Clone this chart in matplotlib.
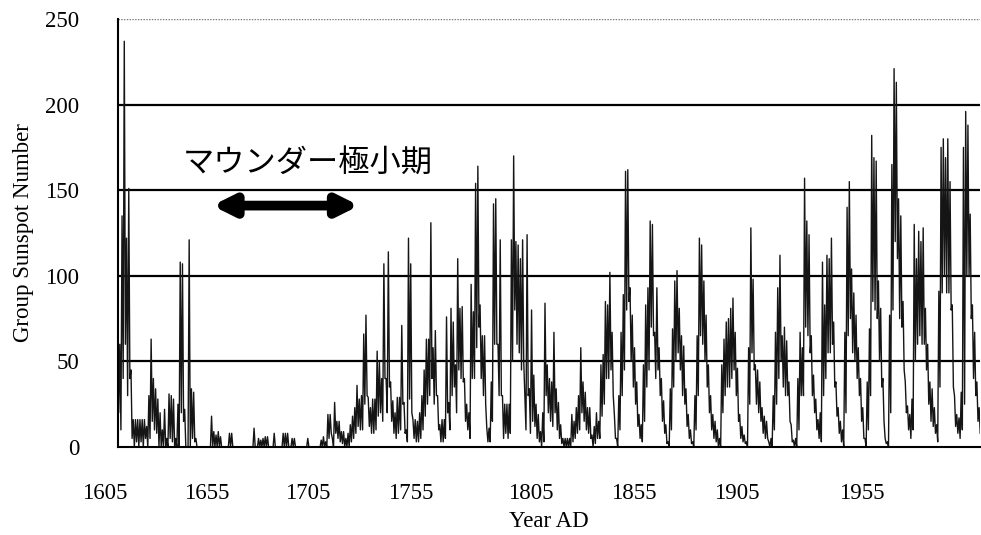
import numpy as np
import matplotlib
matplotlib.use("Agg")
import matplotlib.pyplot as plt

# group sunspot number: per-year high and low envelope
start_year = 1610
gsn_hi = [
    73, 60, 135, 237, 122, 151, 45, 16, 16, 16,        # 1610s
    16, 16, 16, 12, 30, 63, 40, 34, 28, 20,            # 1620s
    10, 22, 5, 31, 30, 28, 5, 25, 108, 107,            # 1630s
    22, 0, 121, 34, 32, 5, 0, 0, 0, 0,                 # 1640s
    0, 0, 18, 9, 7, 9, 6, 0, 0, 0,                     # 1650s
    8, 8, 0, 0, 0, 0, 0, 0, 0, 0,                      # 1660s
    0, 11, 0, 5, 4, 5, 6, 6, 0, 0,                     # 1670s
    8, 0, 0, 0, 8, 8, 8, 0, 5, 5,                      # 1680s
    0, 0, 0, 0, 0, 5, 0, 0, 0, 0,                      # 1690s
    0, 4, 6, 3, 19, 19, 5, 26, 15, 15,                 # 1700s
    9, 9, 5, 8, 13, 18, 23, 36, 28, 30,                # 1710s
    66, 77, 29, 23, 28, 28, 56, 50, 40, 107,           # 1720s
    40, 114, 38, 27, 20, 29, 29, 71, 26, 10,           # 1730s
    122, 107, 16, 16, 15, 20, 30, 45, 63, 63,          # 1740s
    131, 58, 68, 30, 13, 16, 16, 76, 26, 81,           # 1750s
    73, 48, 110, 81, 82, 40, 25, 20, 95, 79,           # 1760s
    154, 164, 83, 65, 65, 11, 11, 38, 142, 145,        # 1770s
    60, 121, 30, 25, 25, 25, 121, 170, 120, 118,       # 1780s
    110, 121, 30, 124, 34, 80, 42, 25, 19, 9,          # 1790s
    20, 84, 48, 40, 38, 67, 34, 26, 13, 5,             # 1800s
    5, 5, 5, 19, 15, 23, 30, 58, 38, 32,               # 1810s
    23, 23, 7, 12, 20, 15, 48, 54, 85, 83,             # 1820s
    102, 67, 19, 5, 30, 67, 89, 161, 162, 93,          # 1830s
    77, 58, 38, 19, 13, 48, 83, 93, 132, 130,          # 1840s
    67, 93, 58, 40, 27, 13, 3, 34, 69, 97,             # 1850s
    103, 81, 65, 59, 34, 19, 10, 3, 30, 65,            # 1860s
    122, 118, 97, 77, 48, 30, 19, 15, 10, 5,           # 1870s
    48, 63, 73, 75, 81, 87, 67, 46, 19, 12,            # 1880s
    7, 3, 58, 128, 98, 48, 45, 38, 23, 18,             # 1890s
    15, 3, 5, 30, 67, 93, 112, 65, 70, 62,             # 1900s
    38, 13, 4, 5, 40, 67, 58, 157, 132, 124,           # 1910s
    65, 42, 28, 16, 20, 108, 83, 112, 110, 122,        # 1920s
    73, 38, 23, 15, 10, 67, 140, 155, 104, 90,         # 1930s
    77, 58, 40, 23, 5, 38, 69, 182, 169, 167,          # 1940s
    97, 81, 40, 5, 3, 77, 165, 221, 213, 145,          # 1950s
    135, 85, 38, 24, 19, 28, 130, 110, 126, 120,       # 1960s
    128, 81, 60, 38, 34, 23, 13, 91, 175, 180,         # 1970s
    169, 180, 155, 83, 30, 19, 17, 32, 175, 196,       # 1980s
    188, 136, 83, 67, 38, 23,                          # 1990s
]
gsn_lo = [
    20, 10, 40, 60, 30, 40, 5, 0, 3, 0,
    3, 0, 5, 0, 5, 15, 10, 8, 0, 0,
    0, 0, 0, 5, 3, 0, 0, 0, 20, 15,
    0, 0, 0, 5, 3, 0, 0, 0, 0, 0,
    0, 0, 0, 0, 0, 0, 0, 0, 0, 0,
    0, 0, 0, 0, 0, 0, 0, 0, 0, 0,
    0, 0, 0, 0, 0, 0, 0, 0, 0, 0,
    0, 0, 0, 0, 0, 0, 0, 0, 0, 0,
    0, 0, 0, 0, 0, 0, 0, 0, 0, 0,
    0, 0, 0, 0, 5, 8, 0, 8, 5, 3,
    2, 0, 0, 0, 3, 5, 8, 12, 10, 10,
    25, 30, 12, 8, 8, 10, 18, 20, 15, 40,
    20, 35, 15, 8, 5, 8, 10, 25, 8, 3,
    28, 20, 5, 3, 3, 5, 10, 18, 25, 30,
    40, 25, 30, 10, 3, 3, 5, 20, 10, 30,
    35, 20, 45, 40, 38, 15, 10, 5, 40, 40,
    58, 70, 40, 30, 25, 3, 3, 15, 60, 60,
    30, 30, 5, 8, 5, 8, 50, 80, 60, 55,
    45, 50, 10, 30, 8, 15, 12, 5, 3, 0,
    3, 30, 20, 15, 12, 20, 10, 5, 2, 0,
    0, 0, 0, 3, 5, 8, 10, 20, 15, 10,
    8, 5, 0, 2, 5, 5, 18, 25, 40, 40,
    45, 30, 5, 0, 10, 30, 45, 80, 85, 50,
    35, 25, 12, 5, 3, 15, 35, 45, 70, 65,
    40, 45, 30, 15, 8, 2, 0, 10, 35, 50,
    55, 45, 30, 25, 12, 5, 2, 0, 10, 30,
    65, 60, 50, 35, 20, 10, 5, 3, 0, 0,
    20, 30, 35, 35, 40, 45, 30, 15, 5, 3,
    2, 0, 25, 55, 45, 25, 20, 15, 8, 5,
    5, 0, 0, 10, 25, 40, 50, 35, 30, 30,
    15, 3, 0, 0, 10, 30, 30, 70, 65, 55,
    30, 20, 10, 5, 3, 30, 40, 55, 55, 60,
    35, 18, 8, 3, 0, 20, 65, 75, 55, 50,
    40, 30, 15, 5, 0, 10, 30, 85, 80, 75,
    50, 35, 15, 2, 0, 20, 80, 120, 110, 75,
    70, 45, 20, 10, 5, 10, 50, 60, 65, 60,
    60, 45, 25, 15, 12, 8, 3, 35, 90, 100,
    90, 90, 80, 35, 12, 8, 5, 10, 25, 100,
    100, 75, 40, 30, 15, 8,
]

xtick_labels = ["1605", "1655", "1705", "1755", "1805", "1855", "1905", "1955"]
xtick_years = [1604.6, 1650.2, 1695.3, 1741.4, 1795.0, 1841.0, 1887.0, 1942.9]
yticks = [0, 50, 100, 150, 200, 250]

years = start_year + np.arange(len(gsn_hi))
t = np.ravel(np.column_stack([years + 0.2, years + 0.7]))
v = np.ravel(np.column_stack([gsn_hi, gsn_lo]))

plt.rcParams['font.family'] = ['Liberation Serif', 'DejaVu Serif']

fig = plt.figure(figsize=(9.81, 5.35), dpi=100)
ax = fig.add_axes([0.1203, 0.1645, 0.8787, 0.8])

for yv in yticks[1:-1]:
    ax.axhline(yv, color='black', lw=1.6, zorder=1)
ax.axhline(250, color='#777777', lw=1.0, ls=(0, (1, 1)), zorder=1)

ax.plot(t, v, color='#151515', lw=1.0, zorder=2)

ax.set_xlim(1610.4, 1995.6)
ax.set_ylim(0, 250)
ax.set_yticks(yticks)
ax.set_yticklabels([str(y) for y in yticks], fontsize=16.5)
ax.tick_params(axis='y', length=0, pad=28)
ax.set_xticks([])
for lab, xp in zip(xtick_labels, xtick_years):
    ax.text(xp, -0.085, lab, transform=ax.get_xaxis_transform(),
            ha='center', va='top', fontsize=16.5, clip_on=False)

for s in ['top', 'right']:
    ax.spines[s].set_visible(False)
ax.spines['left'].set_linewidth(1.5)
ax.spines['bottom'].set_linewidth(1.5)

ax.set_xlabel("Year AD", fontsize=16.5, labelpad=46)
ax.set_ylabel("Group Sunspot Number", fontsize=16.5, labelpad=8)

ax.text(1639.5, 166, "マウンダー極小期", fontsize=22.5,
        family=['Noto Sans CJK JP', 'DejaVu Sans'], ha='left', va='center')
ax.annotate("", xy=(1652.5, 141), xytext=(1718.2, 141),
            arrowprops=dict(arrowstyle='<|-|>', color='black', lw=7,
                            mutation_scale=30, shrinkA=0, shrinkB=0))

fig.savefig("out.png", dpi=100)
